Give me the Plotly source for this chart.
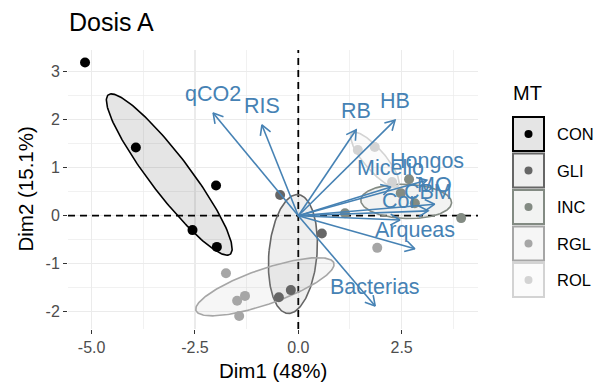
import numpy as np
import plotly.graph_objects as go

# ---------------- data ----------------
groups = ["CON", "GLI", "INC", "RGL", "ROL"]
group_colors = ["#000000", "#666666", "#838B83", "#A6A6A6", "#D3D3D3"]

con_x = [-5.16, -3.93, -1.99, -2.56, -1.97]
con_y = [3.19, 1.42, 0.63, -0.30, -0.65]
gli_x = [-0.44, 0.57, -0.47, -0.18]
gli_y = [0.43, -0.37, -1.70, -1.55]
inc_x = [1.13, 3.94, 2.68, 2.48, 2.82]
inc_y = [0.05, -0.05, 0.76, 0.47, 0.26]
rgl_x = [-1.75, -1.48, -1.29, -1.43, 1.91]
rgl_y = [-1.20, -1.77, -1.67, -2.09, -0.67]
rol_x = [1.44, 1.85, 2.27]
rol_y = [1.37, 1.43, 0.70]

var_names = ["qCO2", "RIS", "RB", "HB", "Micelio", "Hongos", "MO", "CBM", "Cor", "Arqueas", "Bacterias"]
var_x = [-2.06, -0.88, 1.40, 2.34, 2.24, 3.11, 3.30, 3.14, 2.46, 2.82, 1.86]
var_y = [2.14, 1.89, 1.79, 1.99, 0.60, 0.74, 0.24, 0.10, -0.09, -0.69, -1.88]

x_tickvals = [-5.0, -2.5, 0.0, 2.5]
x_ticktext = ["-5.0", "-2.5", "0.0", "2.5"]
y_tickvals = [-2, -1, 0, 1, 2, 3]
y_ticktext = ["-2", "-1", "0", "1", "2", "3"]

title_text = "Dosis A"
x_title = "Dim1 (48%)"
y_title = "Dim2 (15.1%)"
legend_title = "MT"

# ---------------- layout constants ----------------
W, H = 607, 384
PL, PR, PT, PB = 68, 478, 50, 329
xr = [-5.572, 4.348]
yr = [-2.36, 3.452]
FONT = "Liberation Sans, Arial, Helvetica, sans-serif"
ARROW = "#4682B4"

sx = (PR - PL) / (xr[1] - xr[0])
sy = (PB - PT) / (yr[1] - yr[0])


def px(xp):
    return (xp - PL) / (PR - PL)


def py(yp):
    return (PB - yp) / (PB - PT)


def rgba(hexc, a):
    h = hexc.lstrip("#")
    r, g, b = int(h[0:2], 16), int(h[2:4], 16), int(h[4:6], 16)
    return f"rgba({r},{g},{b},{a})"


def conf_ellipse(x, y, npts=200):
    x = np.asarray(x, float)
    y = np.asarray(y, float)
    n = len(x)
    cov = np.cov(x, y)
    c = np.sqrt(5.991) / np.sqrt(n)
    vals, vecs = np.linalg.eigh(cov)
    t = np.linspace(0, 2 * np.pi, npts)
    circ = np.vstack([np.cos(t), np.sin(t)])
    pts = vecs @ (np.sqrt(np.maximum(vals, 0))[:, None] * circ) * c
    return x.mean() + pts[0], y.mean() + pts[1]


group_x = [con_x, gli_x, inc_x, rgl_x, rol_x]
group_y = [con_y, gli_y, inc_y, rgl_y, rol_y]

fig = go.Figure()

# dashed reference lines
fig.add_trace(go.Scatter(x=[0, 0], y=yr, mode="lines",
                         line=dict(color="black", width=1.8, dash="7px,5px"),
                         hoverinfo="skip", showlegend=False))
fig.add_trace(go.Scatter(x=xr, y=[0, 0], mode="lines",
                         line=dict(color="black", width=1.8, dash="7px,5px"),
                         hoverinfo="skip", showlegend=False))

# ellipses
for g, col, gx, gy in zip(groups, group_colors, group_x, group_y):
    ex, ey = conf_ellipse(gx, gy)
    fig.add_trace(go.Scatter(x=ex, y=ey, mode="lines", fill="toself",
                             fillcolor=rgba(col, 0.1),
                             line=dict(color=col, width=1.6),
                             hoverinfo="skip", showlegend=False))

# points
for g, col, gx, gy in zip(groups, group_colors, group_x, group_y):
    fig.add_trace(go.Scatter(x=gx, y=gy, mode="markers", name=g,
                             marker=dict(color=col, size=10, line=dict(width=0)),
                             showlegend=False))

# arrows
HEAD = 11
for name, tx, ty in zip(var_names, var_x, var_y):
    vx, vy = tx * sx, ty * sy
    ln = np.hypot(vx, vy)
    dx, dy = vx / ln, vy / ln
    xs = [0, tx]
    ys = [0, ty]
    barbs = []
    for ang in (np.pi / 6, -np.pi / 6):
        rx = dx * np.cos(ang) - dy * np.sin(ang)
        ry = dx * np.sin(ang) + dy * np.cos(ang)
        bx = (vx - HEAD * rx) / sx
        by = (vy - HEAD * ry) / sy
        barbs.append((bx, by))
    xs += [None, barbs[0][0], tx, barbs[1][0]]
    ys += [None, barbs[0][1], ty, barbs[1][1]]
    fig.add_trace(go.Scatter(x=xs, y=ys, mode="lines",
                             line=dict(color=ARROW, width=1.6),
                             hoverinfo="skip", showlegend=False))

annotations = []
for name, tx, ty in zip(var_names, var_x, var_y):
    annotations.append(dict(x=tx, y=ty, xref="x", yref="y", text=name,
                            showarrow=False, yshift=19, xanchor="center",
                            yanchor="middle",
                            font=dict(family=FONT, size=21.5, color=ARROW)))

# title & axis titles
annotations.append(dict(x=px(67), y=py(22), xref="paper", yref="paper",
                        text=title_text, showarrow=False, xanchor="left",
                        yanchor="middle", font=dict(family=FONT, size=25, color="black")))
annotations.append(dict(x=px(273), y=py(370), xref="paper", yref="paper",
                        text=x_title, showarrow=False, xanchor="center",
                        yanchor="middle", font=dict(family=FONT, size=20.5, color="black")))
annotations.append(dict(x=px(25), y=py(189.5), xref="paper", yref="paper",
                        text=y_title, showarrow=False, xanchor="center",
                        yanchor="middle", textangle=-90,
                        font=dict(family=FONT, size=20.5, color="black")))

# manual legend
shapes = []
annotations.append(dict(x=px(511), y=py(93), xref="paper", yref="paper",
                        text=legend_title, showarrow=False, xanchor="left",
                        yanchor="middle", font=dict(family=FONT, size=20, color="black")))
for i, (g, col) in enumerate(zip(groups, group_colors)):
    top = 117 + 36.5 * i
    shapes.append(dict(type="rect", xref="paper", yref="paper",
                       x0=px(513), x1=px(544), y0=py(top + 34), y1=py(top),
                       fillcolor=rgba(col, 0.1), line=dict(color=col, width=2)))
    cx, cy = 528.5, top + 17
    shapes.append(dict(type="circle", xref="paper", yref="paper",
                       x0=px(cx - 4), x1=px(cx + 4), y0=py(cy + 4), y1=py(cy - 4),
                       fillcolor=col, line=dict(width=0)))
    annotations.append(dict(x=px(555), y=py(cy), xref="paper", yref="paper",
                            text=g, showarrow=False, xanchor="left", yanchor="middle",
                            font=dict(family=FONT, size=16.5, color="black")))

grid_col = "#EBEBEB"
fig.update_layout(
    width=W, height=H,
    margin=dict(l=PL, r=W - PR, t=PT, b=H - PB, pad=0),
    paper_bgcolor="white", plot_bgcolor="white",
    showlegend=False,
    annotations=annotations,
    shapes=shapes,
    font=dict(family=FONT),
    xaxis=dict(range=xr, tickmode="array", tickvals=x_tickvals, ticktext=x_ticktext,
               showgrid=True, gridcolor=grid_col, gridwidth=1.3, zeroline=False,
               ticks="outside", ticklen=4, tickwidth=1, tickcolor="#333333",
               tickfont=dict(family=FONT, size=16, color="#4D4D4D"),
               showline=False,
               minor=dict(tickmode="array", tickvals=[-3.75, -1.25, 1.25, 3.75],
                          showgrid=True, gridcolor=grid_col, gridwidth=0.7, ticks="")),
    yaxis=dict(range=yr, tickmode="array", tickvals=y_tickvals, ticktext=y_ticktext,
               showgrid=True, gridcolor=grid_col, gridwidth=1.3, zeroline=False,
               ticks="outside", ticklen=4, tickwidth=1, tickcolor="#333333",
               tickfont=dict(family=FONT, size=16, color="#4D4D4D"),
               showline=False,
               minor=dict(tickmode="array", tickvals=[-1.5, -0.5, 0.5, 1.5, 2.5],
                          showgrid=True, gridcolor=grid_col, gridwidth=0.7, ticks="")),
)

fig.write_html("out.html",
               config={"displayModeBar": False, "staticPlot": True},
               post_script="document.body.style.margin='0px';document.body.style.overflow='hidden';")
